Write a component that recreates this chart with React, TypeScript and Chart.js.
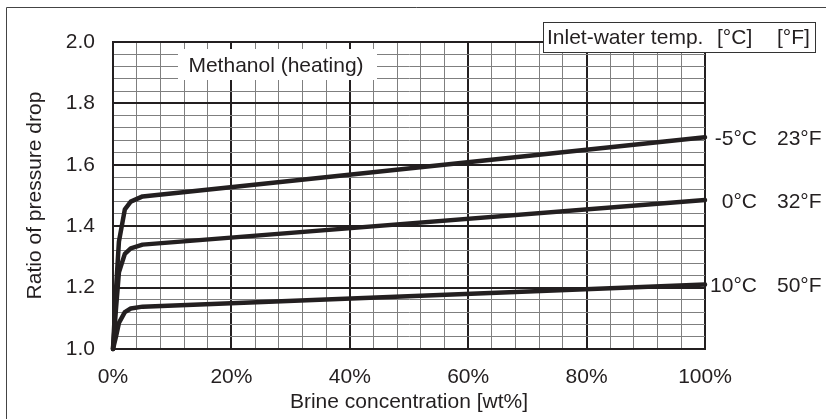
import React, { useEffect, useRef } from "react";
import { Chart, registerables } from "chart.js";

Chart.register(...registerables);

// Brine concentration [wt%]
const concentration = [0, 0.5, 1, 2, 3, 5, 100];
// Ratio of pressure drop per inlet-water temperature
const seriesMinus5C = [1.0, 1.19, 1.35, 1.455, 1.48, 1.497, 1.69];
const series0C = [1.0, 1.13, 1.25, 1.31, 1.328, 1.34, 1.485];
const series10C = [1.0, 1.04, 1.085, 1.12, 1.132, 1.138, 1.21];
const tempC = ["-5°C", "0°C", "10°C"];
const tempF = ["23°F", "32°F", "50°F"];

const title = "Methanol (heating)";
const legendTitle = ["Inlet-water temp.", "[°C]", "[°F]"];
const xTitle = "Brine concentration [wt%]";
const yTitle = "Ratio of pressure drop";

const FONT = "'Liberation Sans', Arial, sans-serif";
const FS = 21;
const INK = "#231f20";
const MINOR = "#7f7f7f";

export default function App() {
  const ref = useRef<HTMLCanvasElement | null>(null);

  useEffect(() => {
    if (!ref.current) return;
    const allSeries = [seriesMinus5C, series0C, series10C];
    const datasets = allSeries.map((s, i) => ({
      label: tempC[i],
      data: s.map((v, j) => ({ x: concentration[j], y: v })),
      borderColor: INK,
      borderWidth: 4.5,
      pointRadius: 0,
      tension: 0,
      borderJoinStyle: "round" as const,
      borderCapStyle: "round" as const,
      clip: false as any,
    }));

    const overlay = {
      id: "overlay",
      afterDraw(chart: any) {
        const ctx = chart.ctx;
        const { right } = chart.chartArea;
        const y = chart.scales.y;
        ctx.save();
        // outer frame
        ctx.strokeStyle = "#444";
        ctx.lineWidth = 1;
        ctx.beginPath();
        ctx.moveTo(6.5, 430);
        ctx.lineTo(6.5, 7.5);
        ctx.lineTo(830, 7.5);
        ctx.stroke();

        // Methanol label box
        ctx.fillStyle = "#fff";
        ctx.fillRect(178, 49, 199, 31);
        ctx.fillStyle = INK;
        ctx.font = `${FS}px ${FONT}`;
        ctx.textAlign = "center";
        ctx.textBaseline = "middle";
        ctx.fillText(title, 276, 66);

        // legend title box
        ctx.fillStyle = "#fff";
        ctx.fillRect(543, 22, 272, 30);
        ctx.strokeStyle = "#333";
        ctx.lineWidth = 1;
        ctx.strokeRect(543.5, 22.5, 272, 30);
        ctx.fillStyle = INK;
        ctx.textAlign = "left";
        ctx.fillText(legendTitle[0], 547, 38);
        ctx.fillText(legendTitle[1], 717, 38);
        ctx.fillText(legendTitle[2], 777, 38);

        // series end labels
        allSeries.forEach((s, i) => {
          const py = y.getPixelForValue(s[s.length - 1]) + 2;
          ctx.textAlign = "right";
          ctx.fillText(tempC[i], right + 52, py);
          ctx.textAlign = "left";
          ctx.fillText(tempF[i], right + 72, py);
        });
        ctx.restore();
      },
    };

    const isMajorX = (v: number) => Math.round(v) % 20 === 0;
    const isMajorY = (v: number) => Math.round(v * 100) % 20 === 0;

    const chart = new Chart(ref.current, {
      type: "line",
      data: { datasets },
      options: {
        animation: false,
        responsive: false,
        devicePixelRatio: 1,
        layout: { padding: { left: 0, right: 121, top: 42, bottom: 0 } },
        plugins: { legend: { display: false }, tooltip: { enabled: false } },
        scales: {
          x: {
            type: "linear",
            min: 0,
            max: 100,
            afterFit: (s: any) => {
              s.height = 70;
            },
            ticks: {
              stepSize: 4,
              autoSkip: false,
              maxRotation: 0,
              padding: 16,
              color: INK,
              font: { family: FONT, size: FS },
              callback: (v: any) => (isMajorX(Number(v)) ? `${Math.round(Number(v))}%` : ""),
            },
            grid: {
              drawTicks: false,
              color: (c: any) => (isMajorX(c.tick.value) ? INK : MINOR),
              lineWidth: (c: any) => (isMajorX(c.tick.value) ? 2 : 1),
            },
            border: { display: true, color: INK, width: 2 },
            title: {
              display: true,
              text: xTitle,
              color: INK,
              font: { family: FONT, size: FS },
              padding: { top: 0, bottom: 4 },
            },
          },
          y: {
            type: "linear",
            min: 1,
            max: 2,
            afterFit: (s: any) => {
              s.width = 113;
            },
            ticks: {
              stepSize: 0.04,
              autoSkip: false,
              padding: 18,
              color: INK,
              font: { family: FONT, size: FS },
              callback: (v: any) => (isMajorY(Number(v)) ? Number(v).toFixed(1) : ""),
            },
            grid: {
              drawTicks: false,
              color: (c: any) => (isMajorY(c.tick.value) ? INK : MINOR),
              lineWidth: (c: any) => (isMajorY(c.tick.value) ? 2 : 1),
            },
            border: { display: true, color: INK, width: 2 },
            title: {
              display: true,
              text: yTitle,
              color: INK,
              font: { family: FONT, size: FS },
              padding: { top: 23, bottom: 0 },
            },
          },
        },
      },
      plugins: [overlay],
    });
    return () => chart.destroy();
  }, []);

  return (
    <div style={{ position: "fixed", left: 0, top: 0, width: 826, height: 419, background: "#fff" }}>
      <canvas ref={ref} width={826} height={419} style={{ display: "block" }} />
    </div>
  );
}
